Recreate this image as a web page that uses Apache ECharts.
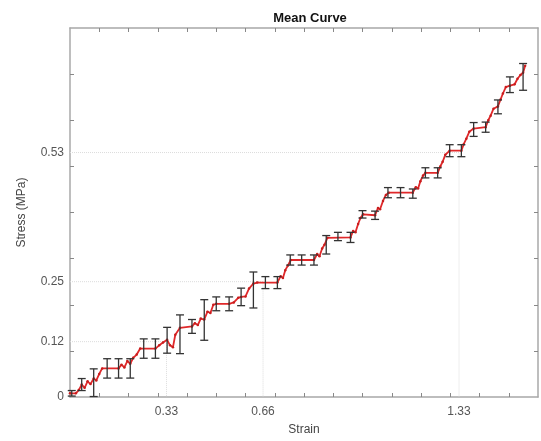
<!DOCTYPE html>
<html>
<head>
<meta charset="utf-8">
<script src="https://cdn.jsdelivr.net/npm/echarts@6/dist/echarts.min.js"></script>
<style>html,body{margin:0;padding:0;background:#fff}#c{width:541px;height:441px}</style>
</head>
<body>
<div id="c"></div>
<script>
// Error bar positions (strain), means (stress, MPa) and half-widths
var barX = [0.006,0.040,0.081,0.127,0.166,0.206,0.252,0.292,0.332,0.376,0.417,0.459,0.500,0.544,0.585,0.627,0.668,0.709,0.753,0.792,0.834,0.876,0.916,0.959,1.000,1.043,1.087,1.130,1.172,1.215,1.257,1.298,1.338,1.380,1.421,1.463,1.504,1.549];
var barMean = [0.008,0.027,0.031,0.062,0.062,0.062,0.105,0.105,0.123,0.136,0.153,0.167,0.202,0.202,0.217,0.232,0.248,0.248,0.297,0.297,0.297,0.330,0.348,0.346,0.396,0.394,0.443,0.443,0.441,0.486,0.486,0.534,0.534,0.580,0.585,0.629,0.677,0.694];
var barErr = [0.006,0.013,0.030,0.021,0.021,0.021,0.021,0.021,0.028,0.042,0.015,0.044,0.015,0.015,0.019,0.039,0.013,0.013,0.011,0.011,0.011,0.020,0.009,0.011,0.008,0.009,0.011,0.011,0.010,0.011,0.011,0.013,0.013,0.015,0.011,0.015,0.017,0.029];

// Mean curve (red)
var curveX = [0.000,0.020,0.030,0.040,0.050,0.060,0.070,0.081,0.090,0.100,0.110,0.166,0.176,0.186,0.196,0.206,0.216,0.228,0.240,0.292,0.305,0.318,0.332,0.342,0.352,0.360,0.376,0.417,0.427,0.437,0.447,0.459,0.470,0.480,0.490,0.500,0.544,0.560,0.575,0.585,0.600,0.612,0.627,0.640,0.709,0.720,0.728,0.736,0.745,0.755,0.834,0.845,0.853,0.862,0.870,0.880,0.959,0.968,0.976,0.985,0.993,1.002,1.043,1.053,1.060,1.070,1.080,1.090,1.172,1.182,1.190,1.198,1.207,1.215,1.257,1.266,1.274,1.283,1.298,1.338,1.346,1.355,1.365,1.380,1.421,1.430,1.438,1.448,1.463,1.472,1.480,1.490,1.504,1.520,1.530,1.540,1.549,1.556];
var curveY = [0.008,0.008,0.015,0.027,0.020,0.034,0.028,0.040,0.036,0.050,0.062,0.062,0.070,0.064,0.078,0.072,0.085,0.092,0.105,0.105,0.112,0.118,0.124,0.112,0.108,0.135,0.150,0.153,0.160,0.156,0.170,0.168,0.185,0.182,0.200,0.202,0.202,0.205,0.215,0.217,0.218,0.235,0.246,0.248,0.248,0.262,0.258,0.275,0.285,0.297,0.297,0.310,0.305,0.322,0.330,0.345,0.346,0.360,0.357,0.375,0.388,0.396,0.394,0.410,0.407,0.425,0.438,0.443,0.443,0.455,0.452,0.468,0.480,0.486,0.486,0.500,0.510,0.525,0.534,0.534,0.548,0.560,0.575,0.582,0.585,0.600,0.610,0.625,0.630,0.645,0.658,0.672,0.675,0.678,0.690,0.698,0.703,0.718];

// Axis ticks and labelled reference values
var xTicks = [0.1,0.2,0.3,0.4,0.5,0.6,0.7,0.8,0.9,1.0,1.1,1.2,1.3,1.4,1.5];
var yTicks = [0.1,0.2,0.3,0.4,0.5,0.6,0.7];
var xLabels = [0.33,0.66,1.33];
var yLabels = [0,0.12,0.25,0.53];
var refX = [0.33,0.66,1.33];
var refY = [0.12,0.25,0.53];

var chart = echarts.init(document.getElementById('c'), null, {renderer:'canvas'});
var FONT = 'Liberation Sans, Arial, sans-serif';
var axisCol = '#a8a8a8';

function fmt(v){ return String(Math.round(v*100)/100); }

var refSeries = refX.map(function(x, i){
  return {
    type:'line', silent:true, symbol:'none', z:1,
    data:[[0, refY[i]], [x, refY[i]], [x, 0]],
    lineStyle:{color:'#dcdcdc', width:1, type:'dotted'}
  };
});

var curveData = curveX.map(function(x,i){ return [x, curveY[i]]; });
var barData = barX.map(function(x,i){ return [x, barMean[i]-barErr[i], barMean[i]+barErr[i]]; });

var baseX = {
  type:'value', min:0, max:1.6, gridIndex:0,
  axisLine:{show:true, onZero:false, lineStyle:{color:axisCol, width:1.5}},
  axisTick:{show:true, inside:true, length:4, customValues:xTicks, lineStyle:{color:'#888'}},
  splitLine:{show:false}
};
var baseY = {
  type:'value', min:0, max:0.8, gridIndex:0,
  axisLine:{show:true, onZero:false, lineStyle:{color:axisCol, width:1.5}},
  axisTick:{show:true, inside:true, length:4, customValues:yTicks, lineStyle:{color:'#888'}},
  splitLine:{show:false}
};

var option = {
  animation:false,
  backgroundColor:'#fff',
  title:{
    text:'Mean Curve', left:305, top:7, textAlign:'center',
    textStyle:{fontFamily:FONT, fontSize:13, fontWeight:'bold', color:'#111'}
  },
  grid:{left:70, right:3, top:28, bottom:42, containLabel:false},
  xAxis:[
    Object.assign({}, baseX, {
      position:'bottom',
      name:'Strain', nameLocation:'middle', nameGap:27,
      nameTextStyle:{fontFamily:FONT, fontSize:12, color:'#444'},
      axisLabel:{show:true, customValues:xLabels, formatter:fmt, margin:9,
        fontFamily:FONT, fontSize:12, color:'#555'}
    }),
    Object.assign({}, baseX, {position:'top', axisLabel:{show:false}})
  ],
  yAxis:[
    Object.assign({}, baseY, {
      position:'left',
      name:'Stress (MPa)', nameLocation:'middle', nameGap:42, nameRotate:90,
      nameTextStyle:{fontFamily:FONT, fontSize:12, color:'#444'},
      axisLabel:{show:true, customValues:yLabels, formatter:fmt, margin:6,
        fontFamily:FONT, fontSize:12, color:'#555'}
    }),
    Object.assign({}, baseY, {position:'right', axisLabel:{show:false}})
  ],
  series: refSeries.concat([
    {
      type:'line', z:3, data:curveData,
      symbol:'circle', symbolSize:2.5, showSymbol:true,
      itemStyle:{color:'#c81e1e'},
      lineStyle:{color:'#e0282a', width:1.8}
    },
    {
      type:'custom', z:4, data:barData,
      encode:{x:0, y:[1,2]},
      renderItem:function(params, api){
        var x = api.value(0), lo = api.value(1), hi = api.value(2);
        var p1 = api.coord([x, hi]), p2 = api.coord([x, lo]);
        var w = 4;
        var st = {stroke:'#333', lineWidth:1.3};
        return {type:'group', children:[
          {type:'line', shape:{x1:p1[0], y1:p1[1], x2:p2[0], y2:p2[1]}, style:st},
          {type:'line', shape:{x1:p1[0]-w, y1:p1[1], x2:p1[0]+w, y2:p1[1]}, style:st},
          {type:'line', shape:{x1:p2[0]-w, y1:p2[1], x2:p2[0]+w, y2:p2[1]}, style:st}
        ]};
      }
    }
  ])
};
chart.setOption(option);
</script>
</body>
</html>
